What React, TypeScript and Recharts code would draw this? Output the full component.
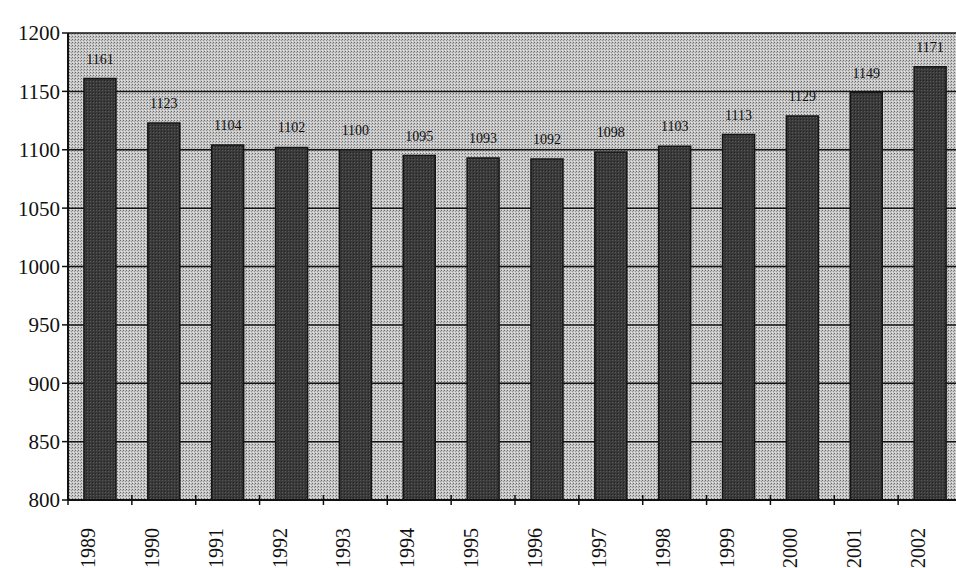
import React from 'react';
import { BarChart, Bar, XAxis, YAxis, CartesianGrid, LabelList } from 'recharts';

const years = ['1989', '1990', '1991', '1992', '1993', '1994', '1995', '1996', '1997', '1998', '1999', '2000', '2001', '2002'];
const values = [1161, 1123, 1104, 1102, 1100, 1095, 1093, 1092, 1098, 1103, 1113, 1129, 1149, 1171];
const yTicks = [800, 850, 900, 950, 1000, 1050, 1100, 1150, 1200];

const chartData = years.map((y, i) => ({ year: y, value: values[i] }));

const serif = '"Liberation Serif", "Times New Roman", serif';

// year label turned on its side, tick mark on the left edge of the category
const YearTick = (props: any) => {
  const { x, y, payload } = props;
  const off = payload.offset || 0;
  const ty = Number(y);
  const tx = Number(x);
  return (
    <g>
      <path d={`M${tx - off},${ty - 13}L${tx - off},${ty - 3}`} stroke="#111" strokeWidth={1.5} fill="none" />
      <foreignObject x={tx - 24} y={ty + 20} width={24} height={50}>
        <div
          style={{
            width: 24,
            height: 50,
            writingMode: 'vertical-rl',
            transform: 'rotate(180deg)',
            textAlign: 'end',
            fontFamily: serif,
            fontSize: 20,
            lineHeight: '24px',
            color: '#111',
            whiteSpace: 'nowrap',
          }}
        >
          {payload.value}
        </div>
      </foreignObject>
    </g>
  );
};

const App: React.FC = () => {
  return (
    <div style={{ position: 'absolute', left: 0, top: 0, width: 956, height: 568, overflow: 'hidden', background: '#fff' }}>
      <svg width={0} height={0} style={{ position: 'absolute' }}>
        <defs>
          <pattern id="dots" width="3" height="3" patternUnits="userSpaceOnUse">
            <rect width="3" height="3" fill="#c8c8c8" />
            <rect width="1" height="1" fill="#6a6a6a" />
            <rect x="2" y="1" width="1" height="1" fill="#949494" />
            <rect x="1" y="2" width="1" height="1" fill="#e2e2e2" />
          </pattern>
          <pattern id="dark" width="3" height="3" patternUnits="userSpaceOnUse">
            <rect width="3" height="3" fill="#3a3a3a" />
            <rect width="1" height="1" fill="#5a5a5a" />
            <rect x="2" y="2" width="1" height="1" fill="#222" />
          </pattern>
        </defs>
      </svg>
      <BarChart
        width={962}
        height={568}
        data={chartData}
        margin={{ top: 33, right: 0, bottom: 0, left: 0 }}
        barCategoryGap="25%"
      >
        <CartesianGrid vertical={false} fill="url(#dots)" stroke="#151515" strokeWidth={1.5} />
        <XAxis
          dataKey="year"
          height={68}
          interval={0}
          tickLine={false}
          axisLine={{ stroke: '#111', strokeWidth: 2 }}
          tick={<YearTick />}
        />
        <YAxis
          width={68}
          domain={[800, 1200]}
          ticks={yTicks}
          allowDataOverflow
          axisLine={{ stroke: '#111', strokeWidth: 2 }}
          tickLine={{ stroke: '#111', strokeWidth: 1.5 }}
          tickSize={6}
          tick={{ fontFamily: serif, fontSize: 21, fill: '#111' }}
        />
        <Bar dataKey="value" fill="url(#dark)" stroke="#151515" strokeWidth={1.5} isAnimationActive={false}>
          <LabelList
            dataKey="value"
            position="top"
            offset={15}
            style={{ fontFamily: serif, fontSize: 14, fill: '#111' }}
          />
        </Bar>
      </BarChart>
    </div>
  );
};

export default App;
